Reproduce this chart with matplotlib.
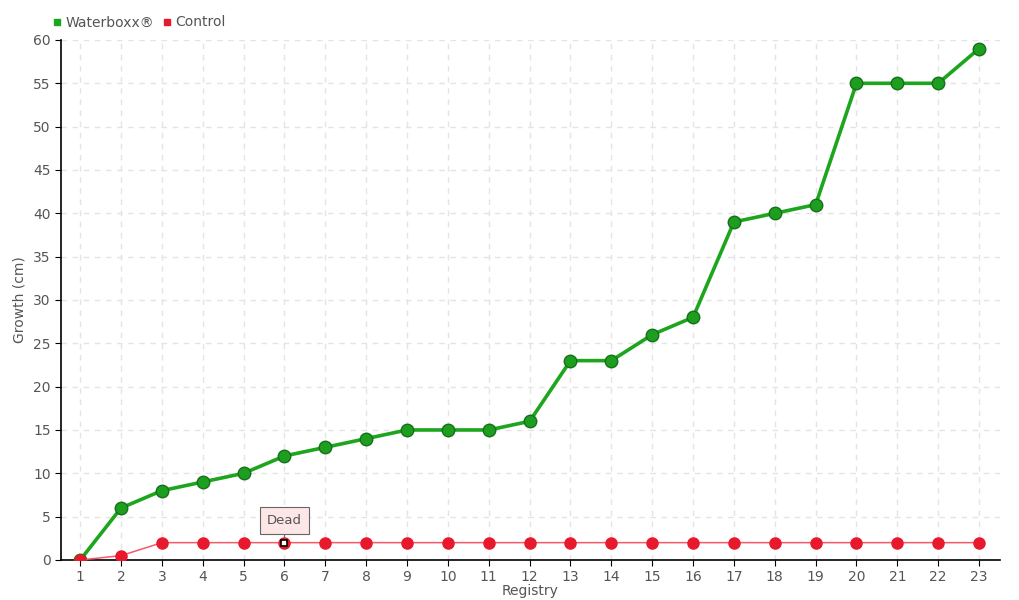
import numpy as np
import matplotlib.pyplot as plt
from matplotlib.lines import Line2D

# registry numbers and growth readings
registry = list(range(1, 24))
waterboxx = [0, 6, 8, 9, 10, 12, 13, 14, 15, 15, 15, 16, 23, 23, 26, 28, 39, 40, 41, 55, 55, 55, 59]
control = [0, 0.5, 2, 2, 2, 2, 2, 2, 2, 2, 2, 2, 2, 2, 2, 2, 2, 2, 2, 2, 2, 2, 2]
dead_at = 6

plt.rcParams['font.family'] = ['DejaVu Sans']
txt = '#555555'

fig = plt.figure(figsize=(10.2, 6), dpi=100)
ax = fig.add_axes([0.0598, 0.0667, 0.9205, 0.8667])

ax.plot(registry, waterboxx, color='#1ea51e', lw=2.6, zorder=3)
ax.plot(registry, waterboxx, 'o', color='#1e9e1e', mec='#16701a', mew=1, ms=9, zorder=4)

ax.plot(registry, control, color='#f25a6a', lw=1.1, zorder=5)
ax.plot(registry, control, 'o', color='#e8192c', ms=8, mec='#e8192c', zorder=6)
i = registry.index(dead_at)
ax.plot(dead_at, control[i], 's', color='white', mec='black', ms=5, mew=1.2, zorder=7)

ax.annotate('Dead', (dead_at, control[i]), xytext=(0, 16), textcoords='offset points',
            ha='center', va='center', fontsize=9.5, color='#555555',
            bbox=dict(boxstyle='square,pad=0.5', fc='#fde6e6', ec='#666666', lw=0.8),
            arrowprops=dict(arrowstyle='-', color='#666666', lw=0.8, shrinkA=0, shrinkB=4), zorder=8)

ax.set_xlim(0.53, 23.51)
ax.set_ylim(0, 60)
ax.set_xticks(registry)
ax.set_yticks(range(0, 61, 5))
ax.grid(True, ls=(0, (4, 4)), color='#e4e4e4', lw=1)
ax.set_axisbelow(True)
for s in ['top', 'right']:
    ax.spines[s].set_visible(False)
for s in ['left', 'bottom']:
    ax.spines[s].set_color('black')
    ax.spines[s].set_linewidth(1.2)
ax.tick_params(colors='black', labelcolor=txt, labelsize=10, length=4)
ax.set_xlabel('Registry', color=txt, fontsize=10, labelpad=0)
ax.set_ylabel('Growth (cm)', color=txt, fontsize=10, labelpad=5)

handles = [Line2D([], [], ls='', marker='s', ms=5, color='#1ea51e', label='Waterboxx®'),
           Line2D([], [], ls='', marker='s', ms=5, color='#e8192c', label='Control')]
fig.legend(handles=handles, loc='upper left', bbox_to_anchor=(0.04, 0.995), ncol=2, frameon=False,
           handlelength=0.6, handletextpad=0.3, columnspacing=0.6, fontsize=10, labelcolor=txt)

fig.savefig('out.png', dpi=100)
